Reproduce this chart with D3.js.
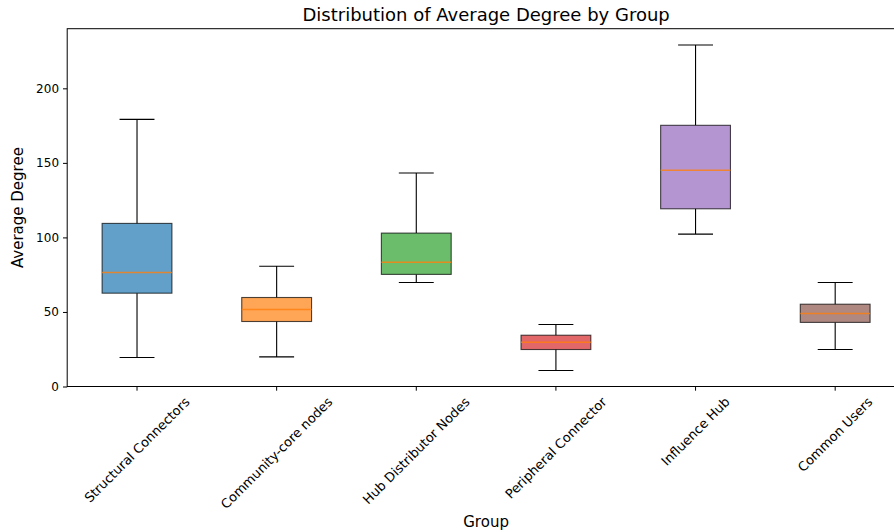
<!DOCTYPE html>
<html>
<head>
<meta charset="utf-8">
<script src="https://cdn.jsdelivr.net/npm/d3@7"></script>
<style>
  body { margin: 0; background: #fff; }
  svg { font-family: "DejaVu Sans", sans-serif; }
</style>
</head>
<body>
<svg id="chart" width="894" height="532"></svg>
<script>
// box statistics
let groups = ["Structural Connectors", "Community-core nodes", "Hub Distributor Nodes",
    "Peripheral Connector", "Influence Hub", "Common Users"];
let whiskerLow = [19.5, 19.9, 69.8, 10.7, 102.2, 24.8];
let q1 = [62.6, 43.6, 75.2, 24.8, 119.2, 43.0];
let median = [76.5, 51.7, 83.4, 29.7, 145.0, 49.0];
let q3 = [109.4, 59.7, 102.9, 34.4, 175.2, 55.2];
let whiskerHigh = [179.2, 80.7, 143.2, 41.6, 229.1, 69.8];
let colors = ["#1f77b4", "#ff7f0e", "#2ca02c", "#d62728", "#9467bd", "#8c564b"];
let yTicks = [0, 50, 100, 150, 200];

let svg = d3.select("#chart");

// axes frame (right edge runs past the window like in the picture)
let mLeft = 67.2, mRight = 905, mTop = 28.7, mBottom = 386.5;

let x = d3.scaleBand().domain(groups).range([mLeft, mRight]).padding(0);
let y = d3.scaleLinear().domain([0, 240]).range([mBottom, mTop]);

let bw = x.bandwidth();
let boxW = bw * 0.5;
let capW = boxW * 0.5;

let data = groups.map(function (g, i) {
    return {name: g, lo: whiskerLow[i], q1: q1[i], med: median[i], q3: q3[i], hi: whiskerHigh[i], color: colors[i]};
});

let plot = svg.append("g");

// whiskers
plot.selectAll(".whisker").data(data).enter().append("path")
    .attr("class", "whisker")
    .attr("fill", "none")
    .attr("stroke", "#000")
    .attr("stroke-width", 1.1)
    .attr("d", function (d) {
        let cx = x(d.name) + bw / 2;
        return "M" + cx + "," + y(d.q1) + "V" + y(d.lo) +
            "M" + (cx - capW / 2) + "," + y(d.lo) + "H" + (cx + capW / 2) +
            "M" + cx + "," + y(d.q3) + "V" + y(d.hi) +
            "M" + (cx - capW / 2) + "," + y(d.hi) + "H" + (cx + capW / 2);
    });

// boxes
plot.selectAll(".box").data(data).enter().append("rect")
    .attr("class", "box")
    .attr("x", function (d) { return x(d.name) + bw / 2 - boxW / 2; })
    .attr("y", function (d) { return y(d.q3); })
    .attr("width", boxW)
    .attr("height", function (d) { return y(d.q1) - y(d.q3); })
    .attr("fill", function (d) { return d.color; })
    .attr("fill-opacity", 0.7)
    .attr("stroke", "#000")
    .attr("stroke-opacity", 0.7)
    .attr("stroke-width", 1.1);

// medians
plot.selectAll(".median").data(data).enter().append("line")
    .attr("class", "median")
    .attr("x1", function (d) { return x(d.name) + bw / 2 - boxW / 2; })
    .attr("x2", function (d) { return x(d.name) + bw / 2 + boxW / 2; })
    .attr("y1", function (d) { return y(d.med); })
    .attr("y2", function (d) { return y(d.med); })
    .attr("stroke", "#ff7f0e")
    .attr("stroke-opacity", 0.8)
    .attr("stroke-width", 1.5);

// spines
svg.append("rect")
    .attr("x", mLeft).attr("y", mTop)
    .attr("width", mRight - mLeft).attr("height", mBottom - mTop)
    .attr("fill", "none").attr("stroke", "#000").attr("stroke-width", 1);

// y axis
let yAxis = svg.append("g")
    .attr("transform", "translate(" + mLeft + ",0)")
    .call(d3.axisLeft(y).tickValues(yTicks).tickSize(4.2).tickPadding(4));
yAxis.select(".domain").remove();
yAxis.selectAll("text").style("font-size", "12px").attr("fill", "#000")
    .style("font-family", "DejaVu Sans");

// x axis
let xAxis = svg.append("g")
    .attr("transform", "translate(0," + mBottom + ")")
    .call(d3.axisBottom(x).tickSize(4.2).tickFormat(""));
xAxis.select(".domain").remove();

// rotated tick labels, centered like matplotlib rotation=45
let labelTop = mBottom + 4.2 + 4;
groups.forEach(function (g) {
    let t = svg.append("text")
        .text(g)
        .style("font-size", "13px")
        .attr("fill", "#000")
        .attr("text-anchor", "middle")
        .attr("dominant-baseline", "central");
    let w = t.node().getComputedTextLength();
    let h = 13 * 1.05;
    let half = (w + h) * Math.SQRT1_2 / 2;
    let cx = x(g) + bw / 2;
    t.attr("transform", "translate(" + cx + "," + (labelTop + half) + ") rotate(-45)");
});

// title and axis labels
svg.append("text")
    .attr("x", (mLeft + mRight) / 2).attr("y", 21)
    .attr("text-anchor", "middle")
    .style("font-size", "18px")
    .text("Distribution of Average Degree by Group");

svg.append("text")
    .attr("x", (mLeft + mRight) / 2).attr("y", 527)
    .attr("text-anchor", "middle")
    .style("font-size", "15px")
    .text("Group");

svg.append("text")
    .attr("transform", "translate(23," + ((mTop + mBottom) / 2) + ") rotate(-90)")
    .attr("text-anchor", "middle")
    .style("font-size", "15px")
    .text("Average Degree");
</script>
</body>
</html>
